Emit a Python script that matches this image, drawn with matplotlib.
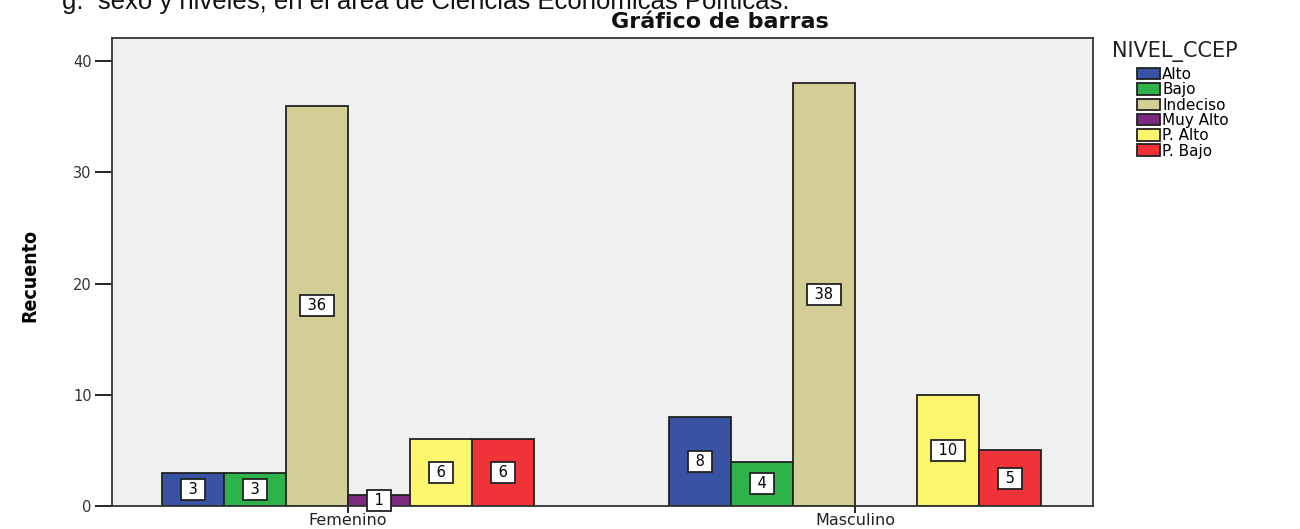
import matplotlib.pyplot as plt
import numpy as np

plt.rcParams['font.family'] = ['DejaVu Sans']

# data
sexo = ['Femenino', 'Masculino']
niveles = ['Alto', 'Bajo', 'Indeciso', 'Muy Alto', 'P. Alto', 'P. Bajo']
recuento = {
    'Alto': [3, 8],
    'Bajo': [3, 4],
    'Indeciso': [36, 38],
    'Muy Alto': [1, 0],
    'P. Alto': [6, 10],
    'P. Bajo': [6, 5],
}
colores = ['#3953a4', '#2db34a', '#d2ce96', '#7b2a7f', '#fbf66e', '#ef3338']
yticks = [0, 10, 20, 30, 40]

W, H = 1300, 529
fig = plt.figure(figsize=(13, 5.29), dpi=100)
ax = fig.add_axes([112 / W, 1 - 506 / H, (1093 - 112) / W, (506 - 38) / H])
ax.set_facecolor('#f0f0f0')

x = np.arange(len(sexo))
width = 0.1223
n = len(niveles)
handles = []
for i, (nivel, color) in enumerate(zip(niveles, colores)):
    vals = np.array(recuento[nivel], dtype=float)
    offs = x + (i - (n - 1) / 2) * width
    mask = vals > 0
    bars = ax.bar(offs[mask], vals[mask], width, color=color,
                  edgecolor='#222222', linewidth=1.3, label=nivel, zorder=2)
    handles.append(bars)
    for xo, v in zip(offs[mask], vals[mask]):
        ax.text(xo, v / 2, f' {int(v)} ', ha='center', va='center',
                fontsize=10.5, zorder=4,
                bbox=dict(boxstyle='square,pad=0.2', facecolor='white',
                          edgecolor='#222222', linewidth=1.3))

ax.set_xlim(-0.465, 1.469)
ax.set_ylim(0, 42.07)
ax.set_xticks(x)
ax.set_xticklabels(sexo, fontsize=11.5, color='#222222')
ax.set_yticks(yticks)
ax.set_yticklabels([str(t) for t in yticks], fontsize=10.5, color='#333333')
ax.tick_params(axis='y', direction='out', length=12.5, width=1.2, pad=2)
ax.tick_params(axis='x', direction='out', length=5, width=1.2, pad=0)
for s in ax.spines.values():
    s.set_color('#333333')
    s.set_linewidth(1.3)

fig.text(30 / W, 1 - 275 / H, 'Recuento', rotation=90, ha='center',
         va='center', fontsize=14, fontweight='bold', fontstretch='condensed',
         family=['Liberation Sans Narrow', 'DejaVu Sans'])
fig.text(720 / W, 1 - 22 / H, 'Gráfico de barras', ha='center', va='center',
         fontsize=16, fontweight='bold', color='#111111')

# caption line of the page, cut by the top edge as in the source image
fig.text(62 / W, 1 - 9 / H,
         'g.  sexo y niveles, en el área de Ciencias Económicas Políticas.',
         fontsize=18.5, ha='left', va='baseline', color='#111111',
         family=['Liberation Sans', 'DejaVu Sans'])

fig.text(1112 / W, 1 - 52 / H, 'NIVEL_CCEP', ha='left', va='center',
         fontsize=15, color='#222222')
leg = fig.legend(handles=handles, labels=niveles,
                 loc='upper left', bbox_to_anchor=(1137 / W, 1 - 67 / H),
                 frameon=False, fontsize=11, borderpad=0, borderaxespad=0,
                 handlelength=1.5, handleheight=0.78, handletextpad=0.15,
                 labelspacing=0.02)
for h in leg.legend_handles:
    h.set_linewidth(1.3)

fig.savefig('out.png', dpi=100)
